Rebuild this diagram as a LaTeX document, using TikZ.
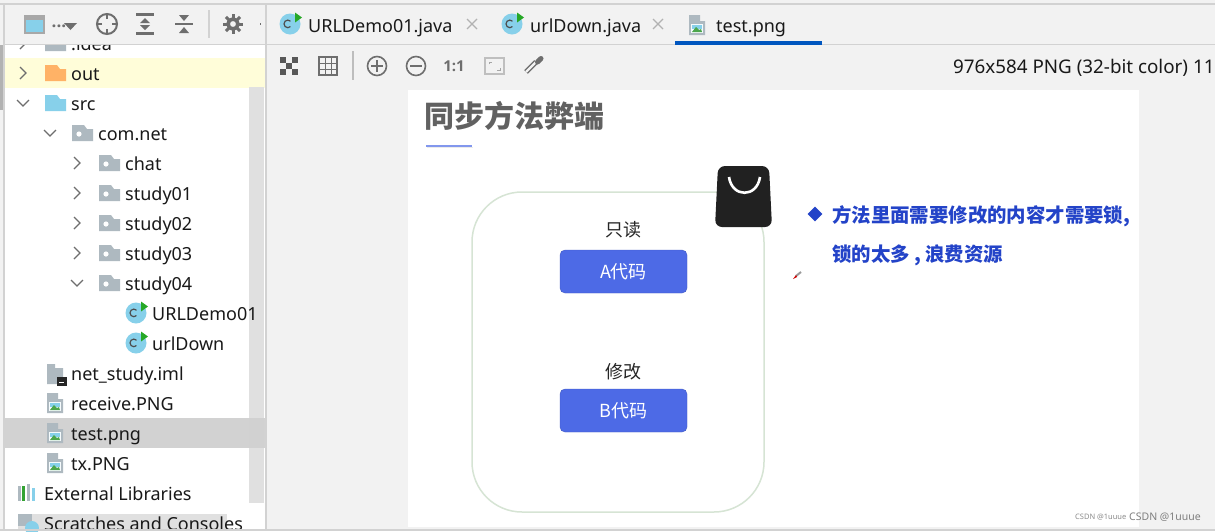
\documentclass[tikz,border=0pt]{standalone}
\usepackage{fontspec}
\setmainfont{Noto Sans}
\newfontfamily\cjkfont{Noto Sans CJK SC}
\newfontfamily\toolfont{Open Sans}
\usetikzlibrary{shapes.geometric}
\definecolor{panelbg}{HTML}{F2F2F2}
\definecolor{linegray}{HTML}{D2D2D2}
\definecolor{icongray}{HTML}{6E6E6E}
\definecolor{foldergray}{HTML}{AEB9C0}
\definecolor{codeblue}{HTML}{4D6AE6}
\definecolor{textblue}{HTML}{2343C8}
\definecolor{skyblue}{HTML}{87D0EA}
\definecolor{boxgreen}{HTML}{D6E4D4}
\tikzset{
  treelabel/.style={anchor=base west, yshift=-7pt, inner sep=0pt, font=\fontsize{18}{18}\selectfont, text=black!90},
  chevron/.style={draw=icongray, line width=1.3pt},
  codebox/.style={draw=codeblue!85!black, fill=codeblue, rounded corners=5pt, minimum width=127pt, minimum height=43pt, inner sep=0pt, text=white, font=\cjkfont\fontsize{18}{18}\selectfont},
  slidelabel/.style={inner sep=0pt, text=black!85, font=\cjkfont\fontsize{18}{18}\selectfont},
  bluetext/.style={anchor=west, inner sep=0pt, text=textblue, font=\cjkfont\bfseries\fontsize{19.4}{19.4}\selectfont},
  toolicon/.style={draw=icongray, line width=1.6pt},
  pics/plainfolder/.style={code={
    \fill[#1] (-10,-8) -- (2,-8) -- (5,-4) -- (11,-4) -- (11,8) -- (-10,8) -- cycle;
  }},
  pics/packfolder/.style={code={
    \fill[foldergray] (-10,-8) -- (2,-8) -- (5,-4) -- (11,-4) -- (11,8) -- (-10,8) -- cycle;
    \fill[white] (-3,1) circle (2.6);
  }},
  pics/classicon/.style={code={
    \fill[skyblue] (0,0) circle (10.5);
    \draw[icongray!70!black, line width=1.2pt] (0.5,-2.8) arc (-45:-315:3.8);
    \fill[green!60!black!85] (5,-11.5) -- (12,-6.5) -- (5,-1.5) -- cycle;
  }},
  pics/imagefile/.style={code={
    \fill[foldergray] (-8,-10) -- (3,-10) -- (3,-4) -- (8,-4) -- (8,10) -- (-8,10) -- cycle;
    \fill[white!92!skyblue] (-6,-1) rectangle (6,8);
    \fill[skyblue] (-5,0) rectangle (5,4);
    \fill[green!50!black!70] (-5,7) -- (-1,2) -- (2,5) -- (4,4) -- (5,7) -- cycle;
  }},
}
\begin{document}
\begin{tikzpicture}[x=1pt, y=-1pt]
\useasboundingbox (0,0) rectangle (1215,531);
% ----------------- Backgrounds -----------------
\fill[panelbg] (0,0) rectangle (1215,531);
\fill[white] (5,45) rectangle (265,531);
\fill[white!85!yellow] (5,58) rectangle (265,88);
\fill[linegray] (5,418) rectangle (265,448);
\fill[black!12] (249,87) rectangle (264,503);
\fill[black!18] (249,418) rectangle (264,448);
\fill[black!12] (18,514) rectangle (227,531);

% ----------------- Project tree -----------------
\node[treelabel] (idea) at (71,43) {.idea};
\node[treelabel] (outdir) at (71,73) {out};
\node[treelabel] (srcdir) at (71,103) {src};
\node[treelabel] (comnet) at (98,133) {com.net};
\foreach \name/\ypos in {chat/163, study01/193, study02/223, study03/253, study04/283}
  \node[treelabel] (\name) at (125,\ypos) {\name};
\node[treelabel] (urldemo) at (152,313) {URLDemo01};
\node[treelabel] (urldown) at (152,343) {urlDown};
\node[treelabel] (iml) at (71,373) {net\_study.iml};
\node[treelabel] (receive) at (71,403) {receive.PNG};
\node[treelabel] (testfile) at (71,433) {test.png};
\node[treelabel] (txfile) at (71,463) {tx.PNG};
\node[treelabel] (extlib) at (44,493) {External Libraries};
\node[treelabel] (scratch) at (44,523) {Scratches and Consoles};

\pic at (55,43) {plainfolder=foldergray};
\pic at (55,73) {plainfolder={orange!60!white}};
\pic at (55,103) {plainfolder=skyblue};
\pic at (82,133) {packfolder};
\foreach \ypos in {163,193,223,253,283}
  \pic at (109,\ypos) {packfolder};
\pic at (136,313) {classicon};
\pic at (136,343) {classicon};
\pic at (55,403) {imagefile};
\pic at (55,433) {imagefile};
\pic at (55,463) {imagefile};
% iml file
\fill[foldergray] (47,364) -- (55,364) -- (55,368) -- (63,368) -- (63,384) -- (47,384) -- cycle;
\fill[black!85] (57,377) rectangle (67,386);
\fill[white] (59,382) rectangle (64,383);
% external libraries, scratches
\fill[green!55!black!80] (22,486) rectangle (25,501);
\fill[foldergray] (18,486) rectangle (21,501);
\fill[foldergray] (27,484) rectangle (30,501);
\fill[skyblue] (32,488) rectangle (35,501);
\fill[foldergray] (18,514) rectangle (32,526);
\fill[skyblue] (32,528) circle (7);

% chevrons, right and down
\foreach \xpos/\ypos in {23/43, 23/73, 77/163, 77/193, 77/223, 77/253}
  \draw[chevron] (\xpos-3,\ypos-6) -- (\xpos+3,\ypos) -- (\xpos-3,\ypos+6);
\foreach \xpos/\ypos in {23/103, 50/133, 77/283}
  \draw[chevron] (\xpos-6,\ypos-3) -- (\xpos,\ypos+3) -- (\xpos+6,\ypos-3);

% ----------------- Top bars -----------------
\fill[panelbg] (5,5) rectangle (265,44);
\fill[panelbg] (267,5) rectangle (1215,90);
\fill[linegray] (0,3) rectangle (1215,4.7);
\fill[linegray] (3.2,3) rectangle (4.7,531);
\fill[black!30] (0,45) rectangle (3,110);
\draw[linegray, line width=1.5pt] (5,44.5) -- (265,44.5);
\fill[linegray] (265,4) rectangle (266.6,531);
\draw[linegray, line width=1.5pt] (267,44.5) -- (1215,44.5);
\fill[linegray] (0,529) rectangle (1215,531);

% left tool bar
\draw[linegray!80!black, line width=1.6pt, fill=skyblue] (25,16) rectangle (44,33);
\fill[linegray!80!black] (25,15) rectangle (44,20);
\node[inner sep=0pt, font=\toolfont\bfseries\fontsize{17}{17}\selectfont, text=icongray] (dots) at (59,26) {...};
\fill[icongray] (64,23) -- (77,23) -- (70.5,30) -- cycle;
\draw[toolicon, line width=2pt] (107,24) circle (10);
\foreach \ang in {0,90,180,270}
  \draw[icongray, line width=2pt] (107,24) ++(\ang:5) -- ++(\ang:5);
\draw[toolicon, line width=2.2pt] (136,14.5) -- (154,14.5) (136,33.5) -- (154,33.5);
\fill[icongray] (145,18) -- (150,23) -- (140,23) -- cycle (145,30) -- (150,25) -- (140,25) -- cycle;
\draw[toolicon, line width=2pt] (175,24) -- (193,24);
\fill[icongray] (184,21) -- (189,15) -- (179,15) -- cycle (184,27) -- (189,33) -- (179,33) -- cycle;
\draw[linegray, line width=1.5pt] (209,10) -- (209,38);
\foreach \ang in {0,45,...,315}
  \draw[icongray, line width=3pt] (233,24) ++(\ang:6) -- ++(\ang:4);
\draw[icongray, line width=3.6pt] (233,24) circle (5);
\fill[icongray] (259.5,23) rectangle (261,25);

% ----------------- Tabs -----------------
\pic at (290,24) {classicon};
\pic at (512,24) {classicon};
\pic at (697,25) {imagefile};
\node[treelabel] (tabdemo) at (308,25) {URLDemo01.java};
\node[treelabel] (tabdown) at (530,25) {urlDown.java};
\node[treelabel] (tabtest) at (716,25) {test.png};
\foreach \xpos in {472,658}
  \draw[black!30, line width=1.2pt] (\xpos-5,19) -- (\xpos+5,29) (\xpos-5,29) -- (\xpos+5,19);
\fill[blue!55!cyan!75!black] (675,41) rectangle (822,45);

% ----------------- Image tool bar -----------------
\foreach \xpos/\ypos in {280/57, 292/57, 286/63, 280/69, 292/69}
  \fill[icongray!80!black] (\xpos,\ypos) rectangle ++(6,6);
\draw[icongray, line width=1.2pt] (319,57) rectangle (337,75);
\draw[icongray, line width=.8pt] (319,63) -- (337,63) (319,69) -- (337,69) (325,57) -- (325,75) (331,57) -- (331,75);
\draw[linegray!90!black, line width=1.5pt] (353,51) -- (353,80);
\draw[toolicon] (377,66) circle (9.5);
\draw[toolicon] (371,66) -- (383,66) (377,60) -- (377,72);
\draw[toolicon] (416,66) circle (9.5);
\draw[toolicon] (410,66) -- (422,66);
\node[inner sep=0pt, text=icongray, font=\toolfont\bfseries\fontsize{15}{15}\selectfont] (actual) at (454,66) {1:1};
\draw[black!25, line width=1.5pt, fill=panelbg] (485,58) rectangle (504,74);
\draw[black!35, line width=1pt] (489,64) -- (489,62) -- (492,62) (500,68) -- (500,70) -- (497,70);
\draw[icongray, line width=5pt] (526,72) -- (536,62);
\draw[panelbg, line width=2.4pt] (526,72) -- (536,62);
\draw[icongray, line width=5pt, line cap=round] (537.5,62) -- (541,58.5);
\node[treelabel, font=\fontsize{18.8}{18.8}\selectfont] (imginfo) at (953,66) {976x584 PNG (32-bit color) 11};

% ----------------- Slide -----------------
\fill[white] (408,90) rectangle (1139,527);
\node[inner sep=0pt, anchor=west, text=black!62, font=\cjkfont\bfseries\fontsize{30}{30}\selectfont] (title) at (424,116) {同步方法弊端};
\fill[codeblue!70!white] (426,144.5) rectangle (472,146.5);
\fill[black!8] (427,146.5) rectangle (473,148);
\draw[boxgreen, line width=1.5pt, rounded corners=50pt] (472,192) rectangle (764,512);

\node[slidelabel] (readlabel) at (623,230) {只读};
\node[codebox] (codea) at (623.5,271.5) {A代码};
\node[slidelabel] (editlabel) at (623,372) {修改};
\node[codebox] (codeb) at (623.5,410.5) {B代码};

% bag
\fill[black!87, rounded corners=7pt] (718,166) -- (769,166) -- (772,227) -- (715,227) -- cycle;
\draw[white, line width=2.6pt] (729,177) .. controls (732,198) and (757,198) .. (760,177);

% right text
\node[diamond, fill=textblue, inner sep=0pt, minimum width=15pt, minimum height=15pt] (bullet) at (815,214) {};
\node[bluetext] (lineone) at (832,216) {方法里面需要修改的内容才需要锁,};
\node[bluetext] (linetwo) at (832,255) {锁的太多 , 浪费资源};
% pencil mark
\draw[black!40, line width=2pt] (796,276) -- (801,272);
\fill[red!80!black] (793,279) -- (796,275) -- (797,277) -- cycle;

% ----------------- Watermarks -----------------
\node[inner sep=0pt, anchor=west, text=black!45, font=\fontsize{7.5}{8}\selectfont] (marksmall) at (1075,517) {CSDN @1uuue};
\node[inner sep=0pt, anchor=west, text=black!50, font=\fontsize{10.5}{11}\selectfont] (marklarge) at (1129,517) {CSDN @1uuue};
\end{tikzpicture}
\end{document}
